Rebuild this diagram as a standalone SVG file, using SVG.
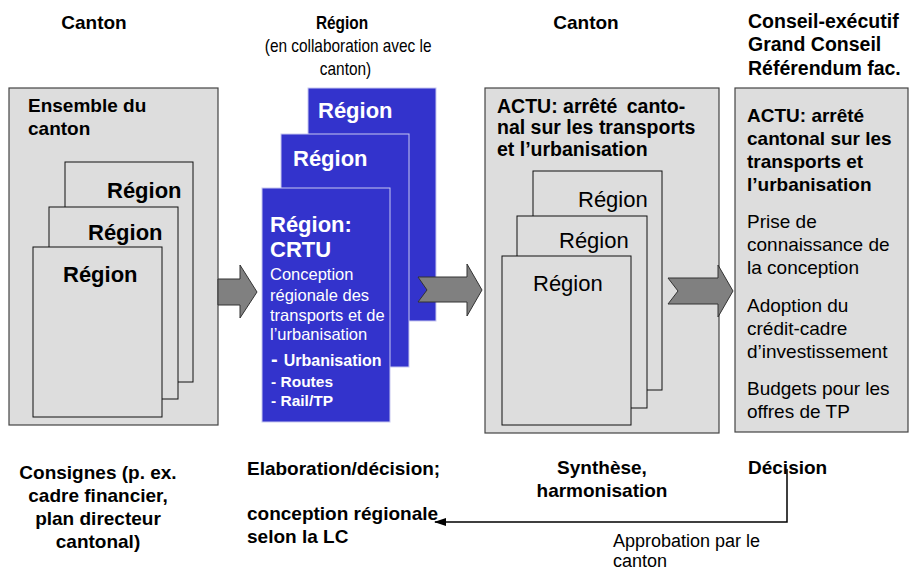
<svg xmlns="http://www.w3.org/2000/svg" width="909" height="570" viewBox="0 0 909 570">
<defs>
<style>
text{font-family:"Liberation Sans",Arial,sans-serif;fill:#000}
.b{font-weight:bold}
.h{font-size:19px;font-weight:bold}
.box{fill:#dddddd;stroke:#444;stroke-width:1.2}
.page{fill:#dddddd;stroke:#111;stroke-width:1}
.blue{fill:#3333cc;stroke:#c8c8f0;stroke-width:1}
.bt{fill:#fff}
.arr{fill:#808080;stroke:#333;stroke-width:1}
.rb{font-size:22px;font-weight:bold}
.rr{font-size:22px}
.t19{font-size:19px}
</style>
<marker id="ah" markerWidth="12" markerHeight="10" refX="11" refY="4" orient="auto" markerUnits="userSpaceOnUse">
<path d="M0,0 L12,4 L0,8 Z" fill="#000"/>
</marker>
</defs>

<g id="headers">
<text class="h" x="94" y="29" text-anchor="middle">Canton</text>
<g transform="translate(342,0) scale(0.88,1)">
<text x="0" y="29" text-anchor="middle" style="font-size:17.5px;font-weight:bold">Région</text>
<text x="7" y="52" text-anchor="middle" style="font-size:17.5px">(en collaboration avec le</text>
<text x="4" y="75" text-anchor="middle" style="font-size:17.5px">canton)</text>
</g>
<text class="h" x="586" y="29" text-anchor="middle">Canton</text>
<text class="b" x="748" y="28" style="font-size:19.5px">Conseil-exécutif</text>
<text class="b" x="748" y="51" style="font-size:19.5px">Grand Conseil</text>
<text class="b" x="748" y="75" style="font-size:19.5px">Référendum fac.</text>
</g>

<g id="canton-box">
<rect class="box" x="9" y="88" width="209" height="337"/>
<text class="h" x="28" y="112">Ensemble du</text>
<text class="h" x="28" y="135">canton</text>
<rect class="page" x="65" y="162" width="128" height="220"/>
<text class="rb" x="107" y="198">Région</text>
<rect class="page" x="49" y="207" width="129" height="192"/>
<text class="rb" x="88" y="240">Région</text>
<rect class="page" x="33" y="247" width="129" height="170"/>
<text class="rb" x="63" y="282">Région</text>
</g>

<g id="region-stack">
<rect class="blue" x="308" y="88" width="128" height="233"/>
<text class="rb bt" x="318" y="118">Région</text>
<rect class="blue" x="281" y="134" width="128" height="233"/>
<text class="rb bt" x="293" y="166">Région</text>
<rect class="blue" x="262" y="188" width="128" height="234"/>
<text class="rb bt" x="270" y="232">Région:</text>
<text class="rb bt" x="270" y="257">CRTU</text>
<text class="bt" x="270" y="280" style="font-size:16.5px">Conception</text>
<text class="bt" x="270" y="301" style="font-size:16.5px">régionale des</text>
<text class="bt" x="270" y="321" style="font-size:16.5px">transports et de</text>
<text class="bt" x="270" y="340" style="font-size:16.5px">l’urbanisation</text>
<text class="b bt" x="271" y="366" style="font-size:16px"><tspan style="font-size:20px">-</tspan><tspan dx="6">Urbanisation</tspan></text>
<text class="b bt" x="271" y="387" style="font-size:15.5px">- Routes</text>
<text class="b bt" x="271" y="406" style="font-size:15.5px">- Rail/TP</text>
</g>

<g id="actu-box">
<rect class="box" x="485" y="88" width="234" height="345"/>
<text class="b" x="497" y="113" style="font-size:19.5px">ACTU: arrêté <tspan dx="4">canto-</tspan></text>
<text class="b" x="497" y="134" style="font-size:19.5px">nal sur les transports</text>
<text class="b" x="497" y="156" style="font-size:19.5px">et l’urbanisation</text>
<rect class="page" x="533" y="171" width="129" height="219"/>
<text class="rr" x="578" y="207">Région</text>
<rect class="page" x="517" y="216" width="130" height="192"/>
<text class="rr" x="559" y="248">Région</text>
<rect class="page" x="502" y="256" width="129" height="169"/>
<text class="rr" x="533" y="291">Région</text>
</g>

<g id="decision-box">
<rect class="box" x="735" y="88" width="173" height="344"/>
<text class="h" x="747" y="122">ACTU: arrêté</text>
<text class="h" x="747" y="145">cantonal sur les</text>
<text class="h" x="747" y="168">transports et</text>
<text class="h" x="747" y="191">l’urbanisation</text>
<text class="t19" x="747" y="228">Prise de</text>
<text class="t19" x="747" y="251">connaissance de</text>
<text class="t19" x="747" y="274">la conception</text>
<text class="t19" x="747" y="312">Adoption du</text>
<text class="t19" x="747" y="335">crédit-cadre</text>
<text class="t19" x="747" y="358">d’investissement</text>
<text class="t19" x="747" y="395">Budgets pour les</text>
<text class="t19" x="747" y="418">offres de TP</text>
</g>

<g id="bottom-labels">
<text class="h" x="98" y="479" text-anchor="middle">Consignes (p. ex.</text>
<text class="h" x="98" y="502" text-anchor="middle">cadre financier,</text>
<text class="h" x="98" y="525" text-anchor="middle">plan directeur</text>
<text class="h" x="98" y="548" text-anchor="middle">cantonal)</text>
<text class="h" x="247" y="475">Elaboration/décision;</text>
<text class="h" x="247" y="520">conception régionale</text>
<text class="h" x="247" y="543">selon la LC</text>
<text class="h" x="602" y="474" text-anchor="middle">Synthèse,</text>
<text class="h" x="602" y="497" text-anchor="middle">harmonisation</text>
<text class="h" x="748" y="474">Décision</text>
<text x="613" y="547" style="font-size:18px">Approbation par le</text>
<text x="613" y="567" style="font-size:18px">canton</text>
</g>

<g id="connectors">
<polygon class="arr" points="218,279 240,279 240,265 257,292 240,318 240,305 218,305"/>
<polygon class="arr" points="418,277 467,277 467,264 482,290 467,316 467,302 418,302 427,290"/>
<polygon class="arr" points="668,278 718,278 718,265 733,291 718,317 718,304 668,304 678,291"/>
<path d="M787,469 V522 H435" fill="none" stroke="#000" stroke-width="1.5" marker-end="url(#ah)"/>
</g>
</svg>
